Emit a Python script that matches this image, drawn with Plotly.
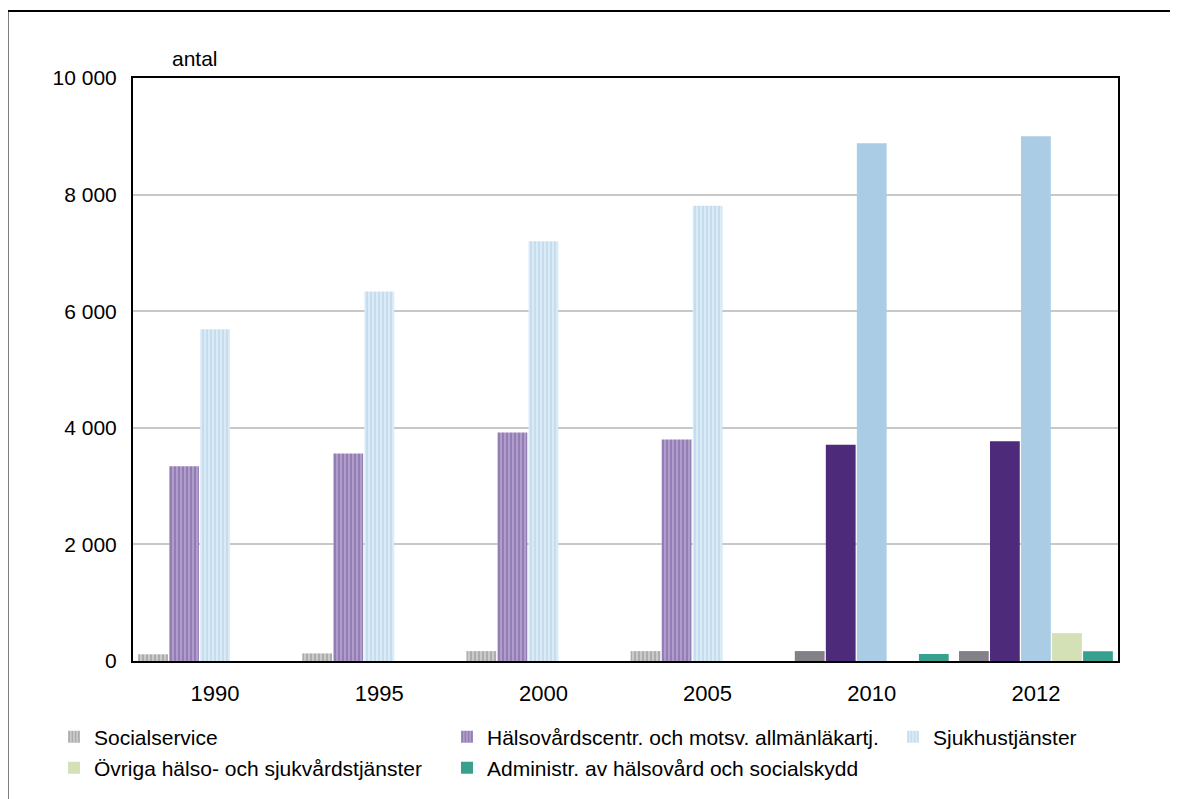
import plotly.graph_objects as go

years = ["1990", "1995", "2000", "2005", "2010", "2012"]
socialservice = [115, 130, 170, 170, 170, 170]
halsovard = [3340, 3560, 3920, 3800, 3710, 3770]
sjukhus = [5690, 6340, 7200, 7810, 8880, 9000]
ovriga = [None, None, None, None, None, 478]
admin = [None, None, None, None, 120, 167]

names = [
    "Socialservice",
    "Hälsovårdscentr. och motsv. allmänläkartj.",
    "Sjukhustjänster",
    "Övriga hälso- och sjukvårdstjänster",
    "Administr. av hälsovård och socialskydd",
]
series = [socialservice, halsovard, sjukhus, ovriga, admin]

# (light bg, stripe, solid)
styles = [
    ("#cbcbcb", "#a4a4a4", "#838088"),
    ("#b19dcc", "#8c76ae", "#4e2a7b"),
    ("#dbebf6", "#c0daee", "#aacde5"),
    ("#d4e1b7", "#d4e1b7", "#d4e1b7"),
    ("#37a08f", "#37a08f", "#37a08f"),
]
legend_ids = ["legend", "legend2", "legend3", "legend4", "legend5"]
patterned = [True, True, True, False, False]
n_old = 4  # 1990-2005 drawn with striped fill

fig = go.Figure()
for i, (nm, vals) in enumerate(zip(names, series)):
    light, stripe, solid = styles[i]
    if patterned[i]:
        fig.add_trace(go.Bar(
            x=years[:n_old], y=vals[:n_old], name=nm, offsetgroup=str(i),
            legend=legend_ids[i],
            marker=dict(color=stripe, line=dict(width=0),
                        pattern=dict(shape="|", bgcolor=light, size=4,
                                     solidity=0.4, fillmode="replace")),
        ))
        fig.add_trace(go.Bar(
            x=years[n_old:], y=vals[n_old:], name=nm, offsetgroup=str(i),
            legend=legend_ids[i], showlegend=False,
            marker=dict(color=solid, line=dict(width=0)),
        ))
    else:
        fig.add_trace(go.Bar(
            x=years, y=vals, name=nm, offsetgroup=str(i),
            legend=legend_ids[i],
            marker=dict(color=solid, line=dict(width=0)),
        ))

font_family = "Liberation Sans, Arial, sans-serif"

# page is offset by ~8px; reference pixel -> plot-area paper coords
def px_x(px):
    return (px - 133) / 985

def px_y(py):
    return (661 - py) / 583

leg_common = dict(orientation="v", xanchor="left", yanchor="middle",
                  bgcolor="rgba(0,0,0,0)", font=dict(size=21, color="#000"),
                  borderwidth=0)
leg_pos = {
    "legend": (54, 737),
    "legend2": (447, 737),
    "legend3": (893, 737),
    "legend4": (54, 768),
    "legend5": (447, 768),
}
legend_layout = {}
for k, (lx, ly) in leg_pos.items():
    legend_layout[k] = dict(leg_common, x=px_x(lx), y=px_y(ly))

fig.update_layout(
    width=1178, height=799,
    margin=dict(l=125, r=68, t=70, b=146),
    paper_bgcolor="white", plot_bgcolor="white",
    font=dict(family=font_family, size=21, color="#000"),
    barmode="group", bargap=0.055, bargroupgap=0.04,
    separators=". ",
    showlegend=True,
    **legend_layout,
    xaxis=dict(showline=True, linecolor="black", linewidth=2, mirror=True,
               tickfont=dict(size=22), ticks="", showgrid=False,
               ticklabelstandoff=12, categoryorder="array", categoryarray=years),
    yaxis=dict(range=[0, 10000], tickvals=[0, 2000, 4000, 6000, 8000, 10000],
               tickformat=",", showgrid=True, gridcolor="#c8c8c8", gridwidth=1.5,
               showline=True, linecolor="black", linewidth=2, mirror=True,
               ticks="", ticklabelstandoff=10, tickfont=dict(size=21),
               zeroline=False),
    annotations=[dict(text="antal", xref="paper", yref="paper",
                      x=px_x(170), y=px_y(58), xanchor="left", yanchor="middle",
                      showarrow=False, font=dict(size=21))],
    shapes=[
        dict(type="line", xref="paper", yref="paper",
             x0=px_x(7.5), x1=px_x(1200), y0=px_y(11), y1=px_y(11),
             line=dict(color="black", width=2)),
        dict(type="line", xref="paper", yref="paper",
             x0=px_x(7.5), x1=px_x(7.5), y0=px_y(11), y1=px_y(820),
             line=dict(color="black", width=2)),
    ],
)

fig.write_html("out.html")
